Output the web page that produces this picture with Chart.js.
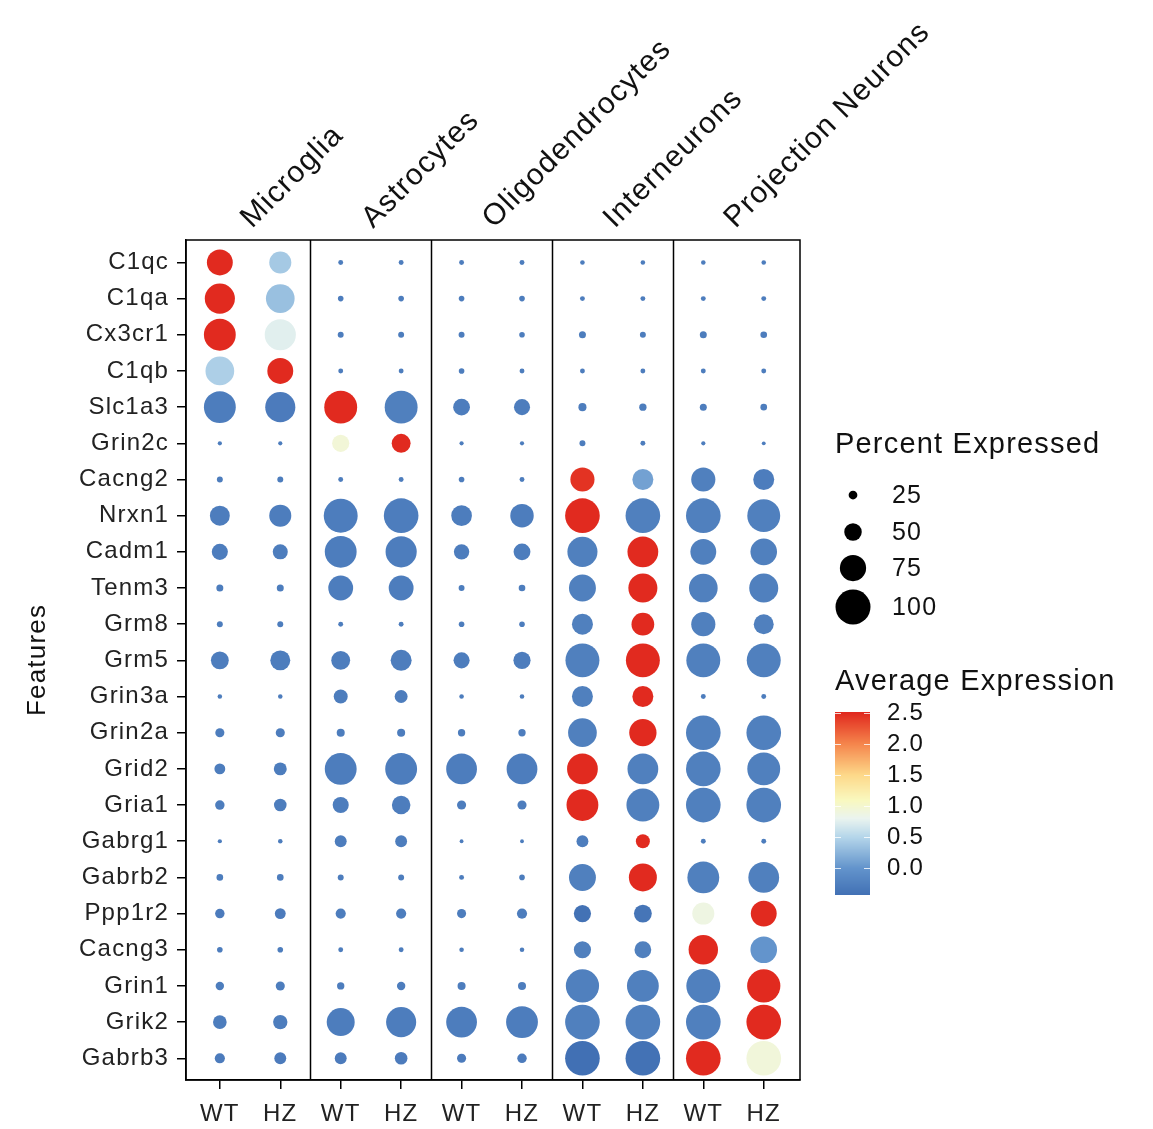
<!DOCTYPE html>
<html>
<head>
<meta charset="utf-8">
<script src="https://cdn.jsdelivr.net/npm/chart.js@4.4.1/dist/chart.umd.min.js"></script>
<style>
html, body { margin: 0; padding: 0; background: #fff; }
#wrap { width: 1153px; height: 1129px; position: relative; }
</style>
</head>
<body>
<div id="wrap"><canvas id="myChart"></canvas></div>
<script>
const genes = ['C1qc','C1qa','Cx3cr1','C1qb','Slc1a3','Grin2c','Cacng2','Nrxn1','Cadm1','Tenm3','Grm8','Grm5',
  'Grin3a','Grin2a','Grid2','Gria1','Gabrg1','Gabrb2','Ppp1r2','Cacng3','Grin1','Grik2','Gabrb3']
const groups = ['WT','HZ']
const cellTypes = ['Microglia','Astrocytes','Oligodendrocytes','Interneurons','Projection Neurons']

// percent expressed, one array per column (genes top to bottom)
const pctMicrogliaWT = [74,86,91,82,91,12,17,57,46,20,17,51,13,26,31,27,12,19,27,16,24,39,29]
const pctMicrogliaHZ = [63,82,89,74,86,12,17,63,43,20,17,57,13,26,37,36,13,19,31,16,26,41,34]
const pctAstroWT     = [14,16,17,14,94,49,14,97,91,71,14,54,40,23,91,46,34,17,29,14,21,80,34]
const pctAstroHZ     = [14,16,17,14,94,54,14,99,89,71,14,60,37,23,91,53,34,17,29,14,24,86,36]
const pctOligoWT     = [14,16,17,16,48,12,16,59,44,17,16,46,13,21,88,26,11,14,26,13,23,88,26]
const pctOligoHZ     = [14,16,16,14,46,12,14,67,48,19,16,49,13,21,88,26,11,16,29,13,23,91,27]
const pctInterWT     = [13,14,20,14,23,17,69,99,86,77,60,97,60,82,88,91,34,77,49,49,95,99,99]
const pctInterHZ     = [13,14,17,14,21,14,60,99,88,83,65,97,60,78,88,94,40,80,51,48,91,99,99]
const pctProjWT      = [13,14,20,14,20,12,69,99,74,82,69,97,14,99,99,99,14,91,63,84,97,99,99]
const pctProjHZ      = [13,14,19,14,19,11,60,94,76,83,57,97,14,99,94,99,14,88,74,76,95,99,99]

// average expression, one array per column
const avgMicrogliaWT = [2.5,2.5,2.5,0.45,-0.28,-0.28,-0.28,-0.28,-0.28,-0.28,-0.28,-0.28,-0.28,-0.28,-0.28,-0.28,-0.28,-0.28,-0.3,-0.28,-0.28,-0.28,-0.3]
const avgMicrogliaHZ = [0.4,0.33,0.75,2.5,-0.3,-0.28,-0.28,-0.28,-0.28,-0.28,-0.28,-0.28,-0.28,-0.28,-0.28,-0.28,-0.28,-0.28,-0.3,-0.28,-0.28,-0.28,-0.3]
const avgAstroWT     = [-0.28,-0.28,-0.28,-0.28,2.5,0.95,-0.28,-0.28,-0.28,-0.28,-0.28,-0.28,-0.28,-0.28,-0.28,-0.28,-0.28,-0.28,-0.28,-0.28,-0.28,-0.28,-0.3]
const avgAstroHZ     = [-0.28,-0.28,-0.28,-0.28,-0.25,2.5,-0.28,-0.28,-0.28,-0.28,-0.28,-0.28,-0.28,-0.28,-0.28,-0.28,-0.28,-0.28,-0.28,-0.28,-0.28,-0.28,-0.3]
const avgOligoWT     = [-0.28,-0.28,-0.28,-0.28,-0.28,-0.28,-0.28,-0.28,-0.28,-0.28,-0.28,-0.28,-0.28,-0.28,-0.28,-0.28,-0.28,-0.28,-0.28,-0.28,-0.28,-0.28,-0.3]
const avgOligoHZ     = [-0.28,-0.28,-0.28,-0.28,-0.28,-0.28,-0.28,-0.28,-0.28,-0.28,-0.28,-0.28,-0.28,-0.28,-0.28,-0.28,-0.28,-0.28,-0.28,-0.28,-0.28,-0.28,-0.3]
const avgInterWT     = [-0.28,-0.28,-0.28,-0.28,-0.28,-0.28,2.45,2.5,-0.25,-0.25,-0.25,-0.25,-0.25,-0.25,2.5,2.5,-0.28,-0.25,-0.42,-0.25,-0.25,-0.25,-0.44]
const avgInterHZ     = [-0.28,-0.28,-0.28,-0.28,-0.28,-0.28,0.1,-0.25,2.5,2.5,2.5,2.5,2.5,2.5,-0.25,-0.25,2.5,2.5,-0.38,-0.25,-0.25,-0.25,-0.42]
const avgProjWT      = [-0.28,-0.28,-0.28,-0.28,-0.28,-0.28,-0.25,-0.25,-0.25,-0.25,-0.25,-0.25,-0.28,-0.25,-0.25,-0.25,-0.28,-0.25,0.88,2.5,-0.25,-0.25,2.5]
const avgProjHZ      = [-0.28,-0.28,-0.28,-0.28,-0.28,-0.28,-0.28,-0.25,-0.25,-0.25,-0.25,-0.25,-0.28,-0.25,-0.25,-0.25,-0.28,-0.25,2.5,0.0,2.5,2.5,0.93]

const pctColumns = [pctMicrogliaWT, pctMicrogliaHZ, pctAstroWT, pctAstroHZ, pctOligoWT, pctOligoHZ, pctInterWT, pctInterHZ, pctProjWT, pctProjHZ]
const avgColumns = [avgMicrogliaWT, avgMicrogliaHZ, avgAstroWT, avgAstroHZ, avgOligoWT, avgOligoHZ, avgInterWT, avgInterHZ, avgProjWT, avgProjHZ]

// legend breaks
const sizeBreaks = [25, 50, 75, 100]
const colorBreaks = [0.0, 0.5, 1.0, 1.5, 2.0, 2.5]

const FONT = '"Liberation Sans", Arial, Helvetica, sans-serif'
const colorStops = [
  [-0.44, [65,112,180]], [0.0, [99,148,204]], [0.5, [181,214,234]], [0.8, [234,244,239]],
  [1.1, [249,248,190]], [1.5, [253,216,137]], [2.0, [245,133,76]], [2.52, [224,38,29]]
]
function expColor(v) {
  if (v <= colorStops[0][0]) return 'rgb(' + colorStops[0][1].join(',') + ')'
  for (let i = 1; i < colorStops.length; i++) {
    const [v1, c1] = colorStops[i]
    const [v0, c0] = colorStops[i - 1]
    if (v <= v1) {
      const t = (v - v0) / (v1 - v0)
      return 'rgb(' + c0.map((c, k) => Math.round(c + (c1[k] - c) * t)).join(',') + ')'
    }
  }
  return 'rgb(' + colorStops[colorStops.length - 1][1].join(',') + ')'
}
const radius = p => p * 0.175

const points = []
pctColumns.forEach((col, c) => {
  col.forEach((p, g) => points.push({ x: c + 1, y: g, r: radius(p), v: avgColumns[c][g] }))
})

const panels = {
  id: 'panels',
  beforeDraw(chart) {
    chart.ctx.letterSpacing = '1.2px'
  },
  afterDatasetsDraw(chart) {
    const { ctx, chartArea: a, scales: { x } } = chart
    ctx.save()
    ctx.strokeStyle = '#000'
    ctx.lineWidth = 1.5
    ctx.strokeRect(a.left, a.top, a.right - a.left, a.bottom - a.top)
    for (let i = 1; i < cellTypes.length; i++) {
      const px = Math.round(x.getPixelForValue(2 * i + 0.5)) + 0.5
      ctx.beginPath()
      ctx.moveTo(px, a.top)
      ctx.lineTo(px, a.bottom)
      ctx.stroke()
    }
    ctx.restore()
  },
  afterDraw(chart) {
    const { ctx, chartArea: a, scales: { x } } = chart
    ctx.save()
    ctx.fillStyle = '#111'
    ctx.letterSpacing = '1.2px'

    // rotated panel titles
    ctx.font = '30px ' + FONT
    ctx.textAlign = 'left'
    ctx.textBaseline = 'alphabetic'
    cellTypes.forEach((name, i) => {
      const cx = x.getPixelForValue(2 * i + 1.5)
      ctx.save()
      ctx.translate(cx + 2, a.top - 11)
      ctx.rotate(-Math.PI / 4)
      ctx.fillText(name, 0, 0)
      ctx.restore()
    })

    // y axis title
    ctx.save()
    ctx.font = '26px ' + FONT
    ctx.textAlign = 'center'
    ctx.textBaseline = 'middle'
    ctx.translate(38, (a.top + a.bottom) / 2)
    ctx.rotate(-Math.PI / 2)
    ctx.fillText('Features', 0, 0)
    ctx.restore()

    // size legend
    const lx = 835
    ctx.font = '29px ' + FONT
    ctx.textBaseline = 'alphabetic'
    ctx.fillText('Percent Expressed', lx, 453)
    const dotY = [495, 532, 568, 607]
    ctx.font = '25px ' + FONT
    ctx.textBaseline = 'middle'
    sizeBreaks.forEach((b, i) => {
      ctx.beginPath()
      ctx.fillStyle = '#000'
      ctx.arc(853, dotY[i], radius(b), 0, Math.PI * 2)
      ctx.fill()
      ctx.fillStyle = '#111'
      ctx.fillText(String(b), 892, dotY[i] + 1)
    })

    // colour legend
    ctx.font = '29px ' + FONT
    ctx.textBaseline = 'alphabetic'
    ctx.fillText('Average Expression', lx, 690)
    const barTop = 712, barBot = 895, barL = 835, barR = 870
    const vTop = 2.516, vBot = -0.435
    const vy = v => barBot - (v - vBot) / (vTop - vBot) * (barBot - barTop)
    for (let y = barTop; y < barBot; y++) {
      const v = vTop - (y - barTop + 0.5) / (barBot - barTop) * (vTop - vBot)
      ctx.fillStyle = expColor(v)
      ctx.fillRect(barL, y, barR - barL, 1)
    }
    ctx.strokeStyle = 'rgba(255,255,255,0.8)'
    ctx.lineWidth = 1
    ctx.font = '24px ' + FONT
    ctx.textBaseline = 'middle'
    colorBreaks.forEach(b => {
      const y = Math.round(vy(b)) + 0.5
      ctx.beginPath()
      ctx.moveTo(barL, y); ctx.lineTo(barL + 6, y)
      ctx.moveTo(barR - 6, y); ctx.lineTo(barR, y)
      ctx.stroke()
      ctx.fillStyle = '#111'
      ctx.fillText(b.toFixed(1), 887, y)
    })
    ctx.restore()
  }
}

const ctx = document.getElementById('myChart')
const chart = new Chart(ctx, {
  type: 'bubble',
  data: {
    datasets: [{
      data: points,
      backgroundColor: c => expColor(c.raw ? c.raw.v : 0),
      borderWidth: 0,
      hoverBorderWidth: 0
    }]
  },
  options: {
    responsive: true,
    maintainAspectRatio: false,
    animation: false,
    events: [],
    layout: { padding: { top: 240, right: 353, left: 0, bottom: 0 } },
    plugins: { legend: { display: false }, tooltip: { enabled: false } },
    scales: {
      x: {
        type: 'linear',
        min: 0.44,
        max: 10.6,
        afterBuildTicks: s => { s.ticks = pctColumns.map((_, i) => ({ value: i + 1 })) },
        afterFit: s => { s.height = 49 },
        ticks: {
          callback: v => groups[(v - 1) % 2],
          font: { family: FONT, size: 24 },
          color: '#222',
          padding: 11,
          maxRotation: 0,
          autoSkip: false
        },
        grid: { drawOnChartArea: false, drawTicks: true, tickLength: 9, color: '#000', lineWidth: 1.5 },
        border: { display: true, color: '#000', width: 1.5 }
      },
      y: {
        type: 'linear',
        reverse: true,
        min: -0.62,
        max: 22.6,
        afterBuildTicks: s => { s.ticks = genes.map((_, i) => ({ value: i })) },
        afterFit: s => { s.width = 186 },
        ticks: {
          callback: v => genes[v],
          font: { family: FONT, size: 24 },
          color: '#222',
          padding: 8,
          autoSkip: false
        },
        grid: { drawOnChartArea: false, drawTicks: true, tickLength: 9, color: '#000', lineWidth: 1.5 },
        border: { display: true, color: '#000', width: 1.5 }
      }
    }
  },
  plugins: [panels]
})
</script>
</body>
</html>
